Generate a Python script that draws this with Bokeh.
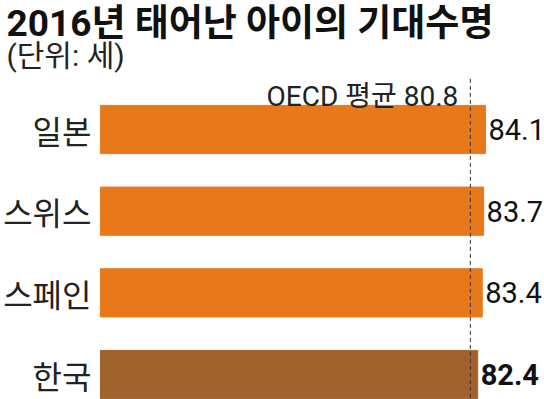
from bokeh.plotting import figure
from bokeh.models import Range1d, Label, ColumnDataSource
from bokeh.core.properties import value
from bokeh.embed import file_html
from bokeh.resources import INLINE

title = "2016년 태어난 아이의 기대수명"
subtitle = "(단위: 세)"
countries = ["일본", "스위스", "스페인", "한국"]
life_exp = [84.1, 83.7, 83.4, 82.4]
oecd_avg = 80.8
oecd_label = "OECD 평균"

ORANGE = "#E8791B"
BROWN = "#A1622E"
NARROW = "Roboto, 'Noto Sans CJK KR'"
KR = "'Noto Sans CJK KR'"

W, H = 544, 399
p = figure(width=W, height=H, output_backend="svg", toolbar_location=None,
           x_range=Range1d(-21.84, 97.0), y_range=Range1d(3.306, -1.58),
           min_border=0, min_border_left=0, min_border_right=0,
           min_border_top=0, min_border_bottom=0)
p.axis.visible = False
p.grid.visible = False
p.outline_line_color = None
p.background_fill_color = "white"
p.border_fill_color = "white"

ys = list(range(len(countries)))
colors = [BROWN if c == "한국" else ORANGE for c in countries]
weights = ["bold" if c == "한국" else "normal" for c in countries]
src = ColumnDataSource(dict(y=ys, v=life_exp, c=colors, name=countries,
                            lab=[f"{v:.1f}" for v in life_exp], w=weights))

p.hbar(y="y", left=0, right="v", height=0.59, fill_color="c", line_color="c",
       line_width=1, source=src)

# category labels
p.text(x=0, y="y", text="name", source=src, x_offset=-9,
       text_align="right", text_baseline="middle",
       text_font=value(KR), text_font_size="32px", text_color="#222222")
# value labels
p.text(x="v", y="y", text="lab", source=src, x_offset=3,
       text_align="left", text_baseline="middle", text_font_style="w",
       text_font=value(NARROW), text_font_size="29px", text_color="#111111")

# OECD dashed line
p.segment(x0=[oecd_avg], y0=[-0.62], x1=[oecd_avg], y1=[3.4],
          line_color="#333333", line_width=1, line_dash="4 3")

p.add_layout(Label(x=oecd_avg, y=H - 96, y_units="screen", x_offset=-12,
                   text=f"{oecd_label} {oecd_avg}", text_align="right",
                   text_baseline="alphabetic", text_font=NARROW,
                   text_font_size="28px", text_color="#222222"))

p.add_layout(Label(x=6, y=H - 1, x_units="screen", y_units="screen",
                   text=title, text_align="left", text_baseline="top",
                   text_font=NARROW, text_font_style="bold",
                   text_font_size="37px", text_color="#111111"))
p.add_layout(Label(x=6, y=H - 37, x_units="screen", y_units="screen",
                   text=subtitle, text_align="left", text_baseline="top",
                   text_font=NARROW,
                   text_font_size="30px", text_color="#222222"))

open("out.html", "w").write(file_html(p, INLINE))
